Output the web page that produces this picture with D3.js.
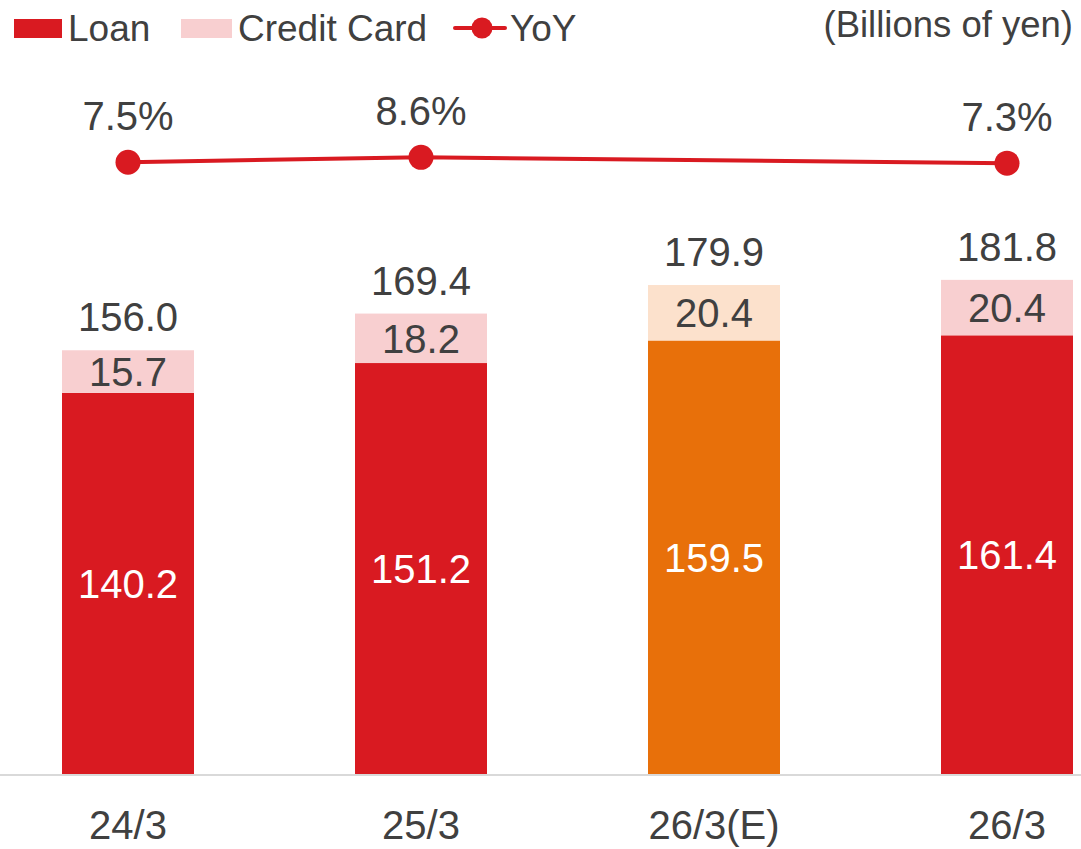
<!DOCTYPE html>
<html><head><meta charset="utf-8">
<script src="https://cdn.jsdelivr.net/npm/d3@7"></script>
<style>body{margin:0;background:#fff}svg{display:block}text{font-family:"Liberation Sans",Arial,sans-serif}</style>
</head><body>
<svg id="c" width="1081" height="849"></svg>
<script>
const categories = ["24/3","25/3","26/3(E)","26/3"];
const loanValues = [140.2,151.2,159.5,161.4];
const cardValues = [15.7,18.2,20.4,20.4];
const totalValues = [156.0,169.4,179.9,181.8];
const yoyValues = [7.5,8.6,null,7.3];
const isEstimate = [false,false,true,false];

const svg = d3.select("#c");
const W=1081,H=849;
const txt="#404040";
const cLoan="#D91A21", cCard="#F8CFD0", cLoanE="#E8700A", cCardE="#FCE1CC";

const x = d3.scalePoint().domain(categories).range([128,1007]);
const bw = 132;
const y = d3.scaleLinear().domain([0,200]).range([774,230.4]);
const y2 = d3.scaleLinear().domain([0,10]).range([196,151]);

// axis line
svg.append("line").attr("x1",0).attr("x2",W).attr("y1",y(0)+1).attr("y2",y(0)+1)
  .attr("stroke","#D9D9D9").attr("stroke-width",2);

const g = svg.append("g");
categories.forEach((c,i)=>{
  const cx=x(c);
  g.append("rect").attr("x",cx-bw/2).attr("width",bw)
   .attr("y",y(loanValues[i])).attr("height",y(0)-y(loanValues[i]))
   .attr("fill",isEstimate[i]?cLoanE:cLoan);
  g.append("rect").attr("x",cx-bw/2).attr("width",bw)
   .attr("y",y(loanValues[i]+cardValues[i])).attr("height",y(loanValues[i])-y(loanValues[i]+cardValues[i]))
   .attr("fill",isEstimate[i]?cCardE:cCard);
  g.append("text").attr("x",cx).attr("y",(y(0)+y(loanValues[i]))/2).attr("dy","0.36em")
   .attr("text-anchor","middle").attr("font-size",40).attr("fill","#fff").text(loanValues[i].toFixed(1));
  g.append("text").attr("x",cx).attr("y",(y(loanValues[i])+y(loanValues[i]+cardValues[i]))/2).attr("dy","0.36em")
   .attr("text-anchor","middle").attr("font-size",40).attr("fill",txt).text(cardValues[i].toFixed(1));
  g.append("text").attr("x",cx).attr("y",y(totalValues[i])-19)
   .attr("text-anchor","middle").attr("font-size",40).attr("fill",txt).text(totalValues[i].toFixed(1));
  g.append("text").attr("x",cx).attr("y",839)
   .attr("text-anchor","middle").attr("font-size",40).attr("fill",txt).text(c);
});

// YoY line
const pts = categories.map((c,i)=>({c,v:yoyValues[i]})).filter(d=>d.v!=null);
svg.append("path").datum(pts)
  .attr("d",d3.line().x(d=>x(d.c)).y(d=>y2(d.v)))
  .attr("fill","none").attr("stroke",cLoan).attr("stroke-width",4);
svg.selectAll(".dot").data(pts).join("circle")
  .attr("cx",d=>x(d.c)).attr("cy",d=>y2(d.v)).attr("r",12.5).attr("fill",cLoan);
svg.selectAll(".yl").data(pts).join("text")
  .attr("x",d=>x(d.c)).attr("y",d=>y2(d.v)-32)
  .attr("text-anchor","middle").attr("font-size",40).attr("fill",txt)
  .text(d=>d.v.toFixed(1)+"%");

// legend
const lg = svg.append("g");
lg.append("rect").attr("x",14).attr("y",19).attr("width",48).attr("height",19).attr("fill",cLoan);
lg.append("text").attr("x",68).attr("y",41).attr("font-size",37).attr("fill",txt).text("Loan");
lg.append("rect").attr("x",181).attr("y",19).attr("width",51).attr("height",19).attr("fill",cCard);
lg.append("text").attr("x",238).attr("y",41).attr("font-size",37).attr("fill",txt).text("Credit Card");
lg.append("line").attr("x1",455).attr("x2",505).attr("y1",28).attr("y2",28).attr("stroke",cLoan).attr("stroke-width",4).attr("stroke-linecap","round");
lg.append("circle").attr("cx",482).attr("cy",28).attr("r",10.5).attr("fill",cLoan);
lg.append("text").attr("x",510).attr("y",41).attr("font-size",37).attr("fill",txt).text("YoY");
svg.append("text").attr("x",1073).attr("y",37).attr("text-anchor","end").attr("font-size",36.5).attr("fill",txt).text("(Billions of yen)");
</script>
</body></html>
